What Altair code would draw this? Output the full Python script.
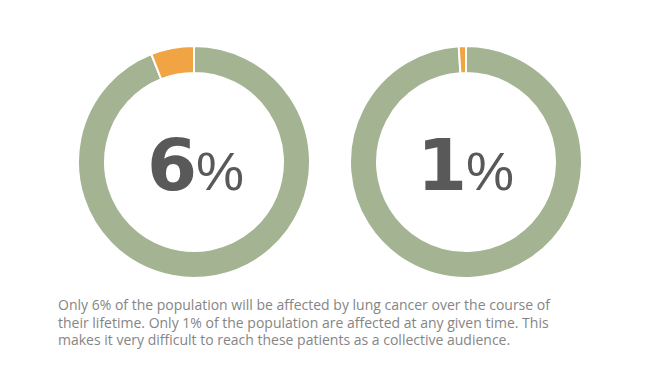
import altair as alt
import pandas as pd

labels = ["6%", "1%"]
numbers = ["6", "1"]
shares = [6, 1]
parts = ["rest", "affected"]
colors = ["#A4B493", "#F0A443"]
caption = [
    "Only 6% of the population will be affected by lung cancer over the course of",
    "their lifetime. Only 1% of the population are affected at any given time. This",
    "makes it very difficult to reach these patients as a collective audience.",
]

rows = []
for lab, s in zip(labels, shares):
    rows.append({"donut": lab, "part": parts[0], "value": 100 - s, "ord": 0})
    rows.append({"donut": lab, "part": parts[1], "value": s, "ord": 1})
df = pd.DataFrame(rows)
nums = pd.DataFrame({"donut": labels, "n": numbers})

color = alt.Color("part:N", scale=alt.Scale(domain=parts, range=colors), legend=None)

CY = 154
layers = []
for lab, cx, split in [("6%", 186, 189), ("1%", 458, 459)]:
    arc = alt.Chart(df).transform_filter(alt.datum.donut == lab).mark_arc(
        outerRadius=116, innerRadius=89, stroke="white", strokeWidth=2
    ).encode(
        theta=alt.Theta("value:Q", stack=True),
        color=color,
        order=alt.Order("ord:Q"),
        x=alt.value(cx),
        y=alt.value(CY),
    )
    num = alt.Chart(nums).transform_filter(alt.datum.donut == lab).mark_text(
        align="right", baseline="alphabetic", font="DejaVu Sans", fontWeight="bold",
        fontSize=72, color="#595959"
    ).encode(text="n:N", x=alt.value(split), y=alt.value(182))
    pct = alt.Chart(nums).transform_filter(alt.datum.donut == lab).mark_text(
        align="left", baseline="alphabetic", font="Liberation Sans", fontWeight="normal",
        fontSize=54, color="#595959", text="%"
    ).encode(x=alt.value(split - 1), y=alt.value(182))
    layers += [arc, num, pct]

cap = alt.Chart(pd.DataFrame({"a": [0]})).mark_text(
    align="left", baseline="alphabetic", font="Open Sans", fontSize=14,
    color="#858585", lineHeight=17.5
).encode(text=alt.value(caption), x=alt.value(50), y=alt.value(302))
layers.append(cap)

chart = alt.layer(*layers).properties(
    width=644, height=355, autosize=alt.AutoSizeParams(type="none"), padding=0
).configure_view(stroke=None)

chart.save("out.html", embed_options={"renderer": "svg", "actions": False})
